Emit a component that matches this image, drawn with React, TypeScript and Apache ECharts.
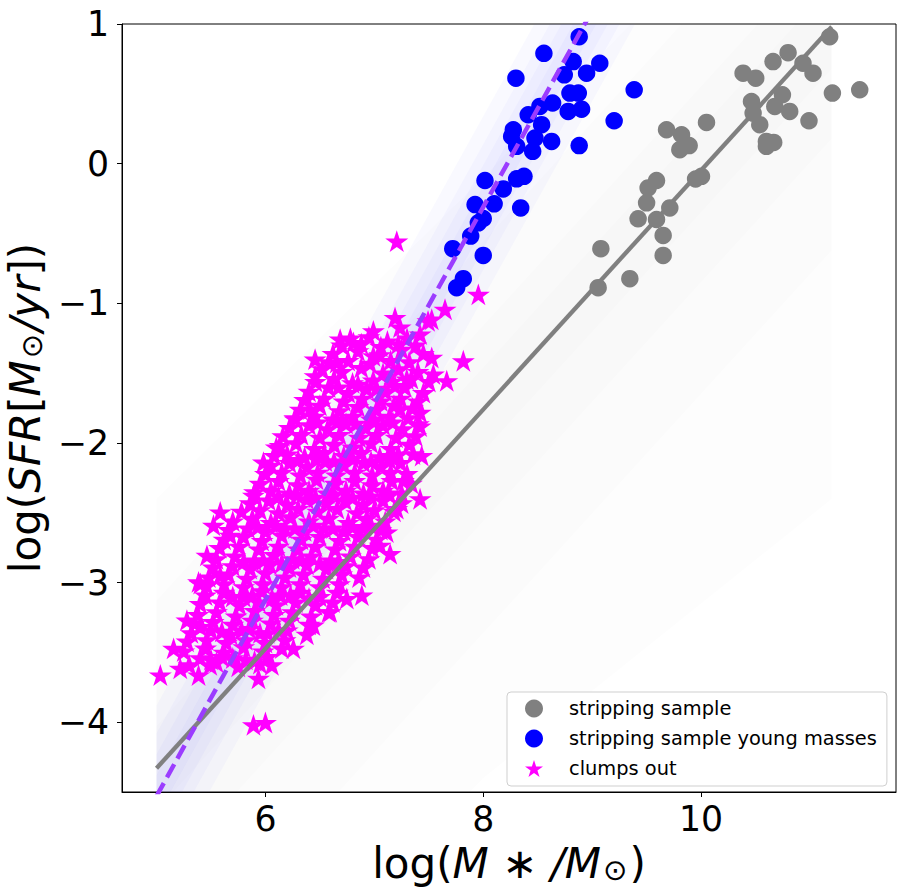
import React, { useEffect, useRef } from "react";
import * as echarts from "echarts";

// ---------------- data ----------------
const strippingSample: [number, number][] = [
  [11.181, 0.909], [10.799, 0.795], [10.661, 0.731], [10.936, 0.719], [10.386, 0.648],
  [10.502, 0.612], [11.028, 0.648], [11.206, 0.505], [11.457, 0.529], [10.747, 0.493],
  [10.463, 0.445], [10.677, 0.41], [10.814, 0.374], [10.478, 0.362], [10.991, 0.307],
  [10.539, 0.279], [10.6, 0.159], [10.667, 0.152], [10.6, 0.124], [10.05, 0.295],
  [9.683, 0.243], [9.821, 0.207], [9.891, 0.129], [9.805, 0.1], [10.004, -0.091],
  [9.95, -0.11], [9.591, -0.121], [9.514, -0.174], [9.5, -0.281], [9.713, -0.317],
  [9.422, -0.395], [9.591, -0.4], [9.652, -0.514], [9.08, -0.609], [9.652, -0.657],
  [9.346, -0.824], [9.055, -0.888],
];

const youngMasses: [number, number][] = [
  [8.881, 0.909], [8.557, 0.79], [8.3, 0.612], [8.826, 0.731], [9.07, 0.719],
  [8.949, 0.648], [8.744, 0.636], [9.386, 0.529], [8.796, 0.505], [8.873, 0.505],
  [8.637, 0.434], [8.52, 0.41], [8.413, 0.35], [8.78, 0.374], [8.903, 0.39],
  [9.202, 0.307], [8.536, 0.279], [8.276, 0.243], [8.261, 0.195], [8.475, 0.183],
  [8.307, 0.124], [8.628, 0.159], [8.454, 0.088], [8.881, 0.129], [8.016, -0.121],
  [8.374, -0.091], [8.307, -0.109], [8.184, -0.181], [7.925, -0.293], [8.1, -0.288],
  [8.344, -0.317], [8.0, -0.393], [7.955, -0.424], [7.885, -0.519], [7.72, -0.609],
  [8.0, -0.657], [7.817, -0.824], [7.756, -0.888],
];

const clumpsOuter: [number, number][] = [
  [7.955, -0.936], [7.649, -1.043], [7.206, -0.555], [7.19, -1.102], [7.493, -1.126],
  [6.991, -1.198], [6.686, -1.257], [6.808, -1.281], [7.236, -1.171], [7.42, -1.221],
  [7.527, -1.114], [6.456, -1.4], [6.655, -1.424], [6.456, -1.519], [7.817, -1.412],
  [7.527, -1.388], [7.665, -1.555], [7.542, -1.507], [6.991, -1.376], [7.298, -1.543],
  [6.41, -1.757], [6.273, -1.829], [7.42, -1.781], [7.404, -1.864], [7.236, -1.757],
  [6.135, -2.019], [5.982, -2.138], [7.358, -2.079], [7.435, -2.09], [7.145, -2.09],
  [7.42, -2.4], [7.206, -2.471], [7.267, -2.269], [5.89, -2.376], [5.585, -2.495],
  [5.523, -2.59], [5.677, -2.662], [7.114, -2.638], [7.145, -2.793], [7.053, -2.733],
  [5.463, -2.805], [5.386, -2.995], [5.585, -2.948], [6.885, -3.09], [6.747, -3.114],
  [6.594, -3.209], [5.279, -3.269], [5.402, -3.316], [5.157, -3.471], [5.218, -3.614],
  [5.035, -3.662], [5.386, -3.662], [5.493, -3.59], [5.936, -3.686], [6.059, -3.59],
  [6.257, -3.471], [6.44, -3.305], [5.89, -4.019], [6.0, -4.002], [5.402, -3.007],
];

const clumpsCore: [number, number][] = [
  [6.78, -1.25], [6.95, -1.24], [7.12, -1.27], [7.3, -1.25],
  [6.62, -1.36], [6.85, -1.34], [7.05, -1.37], [7.25, -1.33], [7.45, -1.36],
  [6.52, -1.47], [6.7, -1.49], [6.88, -1.46], [7.08, -1.5], [7.22, -1.47], [7.4, -1.49],
  [6.4, -1.63], [6.58, -1.6], [6.76, -1.64], [6.93, -1.61], [7.1, -1.63], [7.28, -1.6], [7.45, -1.64],
  [6.32, -1.76], [6.5, -1.73], [6.68, -1.77], [6.85, -1.74], [7.02, -1.76], [7.18, -1.73], [7.35, -1.75],
  [6.22, -1.89], [6.4, -1.87], [6.57, -1.9], [6.74, -1.86], [6.92, -1.89], [7.08, -1.87], [7.26, -1.9], [7.42, -1.88],
  [6.1, -2.03], [6.28, -2.0], [6.45, -2.04], [6.63, -2.01], [6.8, -2.03], [6.97, -2.0], [7.15, -2.04], [7.32, -2.01],
  [6.05, -2.16], [6.22, -2.14], [6.38, -2.17], [6.55, -2.13], [6.72, -2.16], [6.9, -2.14], [7.06, -2.17], [7.24, -2.14],
  [5.95, -2.29], [6.12, -2.27], [6.3, -2.3], [6.47, -2.26], [6.64, -2.29], [6.82, -2.27], [6.98, -2.3], [7.16, -2.27], [7.34, -2.29],
  [5.86, -2.43], [6.03, -2.41], [6.2, -2.44], [6.38, -2.4], [6.56, -2.43], [6.73, -2.41], [6.9, -2.44], [7.08, -2.41], [7.25, -2.43],
  [5.7, -2.56], [5.88, -2.54], [6.05, -2.57], [6.23, -2.53], [6.4, -2.56], [6.58, -2.54], [6.76, -2.57], [6.93, -2.54], [7.1, -2.56],
  [5.62, -2.69], [5.8, -2.67], [5.97, -2.7], [6.15, -2.66], [6.33, -2.69], [6.5, -2.67], [6.68, -2.7], [6.85, -2.67], [7.02, -2.69],
  [5.55, -2.83], [5.72, -2.81], [5.9, -2.84], [6.08, -2.8], [6.25, -2.83], [6.42, -2.81], [6.6, -2.84], [6.78, -2.81], [6.95, -2.83],
  [5.48, -2.96], [5.66, -2.94], [5.83, -2.97], [6.0, -2.93], [6.18, -2.96], [6.35, -2.94], [6.53, -2.97], [6.7, -2.94], [6.86, -2.96],
  [5.45, -3.09], [5.62, -3.07], [5.8, -3.1], [5.97, -3.06], [6.14, -3.09], [6.32, -3.07], [6.5, -3.1], [6.66, -3.07],
  [5.38, -3.23], [5.55, -3.21], [5.73, -3.24], [5.9, -3.2], [6.08, -3.23], [6.25, -3.21], [6.42, -3.24], [6.58, -3.21],
  [5.32, -3.36], [5.5, -3.34], [5.68, -3.37], [5.85, -3.33], [6.02, -3.36], [6.2, -3.34], [6.38, -3.37],
  [5.25, -3.49], [5.45, -3.47], [5.62, -3.5], [5.8, -3.46], [5.98, -3.49], [6.15, -3.47],
  [5.3, -3.59], [5.55, -3.57], [5.75, -3.6], [5.95, -3.58],
];

const clumpsInfill: [number, number][] = [
  [6.7, -1.3], [6.88, -1.29], [7.06, -1.31], [7.22, -1.29], [7.38, -1.3],
  [6.58, -1.42], [6.76, -1.41], [6.96, -1.43], [7.15, -1.41], [7.32, -1.42],
  [6.46, -1.56], [6.63, -1.54], [6.8, -1.57], [6.99, -1.55], [7.16, -1.56], [7.34, -1.54], [7.5, -1.56],
  [6.36, -1.69], [6.54, -1.68], [6.72, -1.7], [6.89, -1.68], [7.06, -1.7], [7.24, -1.68], [7.4, -1.7],
  [6.27, -1.82], [6.45, -1.81], [6.62, -1.83], [6.8, -1.81], [6.97, -1.83], [7.14, -1.81], [7.31, -1.82],
  [6.16, -1.95], [6.33, -1.94], [6.5, -1.96], [6.68, -1.94], [6.86, -1.96], [7.02, -1.94], [7.2, -1.96], [7.38, -1.95],
  [6.08, -2.09], [6.2, -2.08], [6.36, -2.1], [6.54, -2.07], [6.72, -2.09], [6.88, -2.07], [7.05, -2.1], [7.22, -2.08],
  [6.0, -2.22], [6.15, -2.21], [6.32, -2.23], [6.48, -2.21], [6.65, -2.23], [6.82, -2.21], [6.98, -2.23], [7.15, -2.21], [7.3, -2.22],
  [5.9, -2.35], [6.05, -2.34], [6.22, -2.36], [6.4, -2.34], [6.57, -2.36], [6.74, -2.34], [6.9, -2.36], [7.08, -2.34], [7.25, -2.36],
  [5.78, -2.49], [5.95, -2.48], [6.12, -2.5], [6.3, -2.47], [6.48, -2.49], [6.66, -2.47], [6.84, -2.5], [7.0, -2.48], [7.18, -2.49],
  [5.66, -2.62], [5.84, -2.61], [6.0, -2.63], [6.18, -2.61], [6.36, -2.63], [6.54, -2.61], [6.72, -2.63], [6.9, -2.61], [7.06, -2.62],
  [5.58, -2.75], [5.76, -2.74], [5.94, -2.76], [6.12, -2.74], [6.3, -2.76], [6.46, -2.74], [6.64, -2.76], [6.82, -2.74], [6.98, -2.75],
  [5.52, -2.89], [5.7, -2.88], [5.86, -2.9], [6.04, -2.87], [6.22, -2.89], [6.38, -2.87], [6.56, -2.9], [6.74, -2.88], [6.9, -2.89],
  [5.46, -3.02], [5.62, -3.01], [5.8, -3.03], [5.98, -3.01], [6.15, -3.03], [6.32, -3.01], [6.5, -3.03], [6.68, -3.01],
  [5.4, -3.15], [5.58, -3.14], [5.76, -3.16], [5.94, -3.14], [6.1, -3.16], [6.28, -3.14], [6.46, -3.16], [6.62, -3.14],
  [5.35, -3.29], [5.52, -3.28], [5.7, -3.3], [5.88, -3.27], [6.05, -3.29], [6.22, -3.27], [6.4, -3.3],
  [5.28, -3.42], [5.46, -3.41], [5.64, -3.43], [5.82, -3.41], [6.0, -3.43], [6.18, -3.41],
  [5.4, -3.54], [5.6, -3.53], [5.82, -3.55], [6.02, -3.53],
];

const clumpsDense: [number, number][] = [
  [6.67, -1.6], [6.85, -1.58], [7.02, -1.61], [7.19, -1.59],
  [6.48, -1.85], [6.66, -1.84], [6.83, -1.86], [7.0, -1.84], [7.17, -1.85],
  [6.3, -2.12], [6.46, -2.11], [6.63, -2.13], [6.8, -2.11], [6.97, -2.13], [7.14, -2.12],
  [6.12, -2.38], [6.29, -2.37], [6.46, -2.39], [6.63, -2.37], [6.8, -2.39], [6.97, -2.38], [7.14, -2.37],
  [5.93, -2.6], [6.1, -2.59], [6.27, -2.61], [6.44, -2.59], [6.62, -2.61], [6.8, -2.6], [6.97, -2.59],
  [5.8, -2.85], [5.98, -2.84], [6.15, -2.86], [6.32, -2.84], [6.5, -2.86], [6.67, -2.85],
  [5.7, -3.1], [5.88, -3.09], [6.06, -3.11], [6.23, -3.09], [6.4, -3.11],
  [5.6, -3.35], [5.78, -3.34], [5.95, -3.36], [6.12, -3.34],
  [5.5, -3.55], [5.7, -3.54], [5.9, -3.56],
];

// fitted relations (end points)
const greyFitX = [5.0, 11.2];
const greyFitY = [-4.33, 0.98];
const youngFitX = [5.0, 9.6];
const youngFitY = [-4.53, 1.94];

// uncertainty envelopes of the fits (nested layers, inner to outer)
const greyBandX = [5.0, 8.0, 11.2];
const greyBandLo = [
  [-4.63, -2.06, 0.68],
  [-5.13, -2.56, 0.18],
  [-5.93, -3.36, -0.62],
  [-6.8, -4.4, -2.4],
];
const greyBandHi = [
  [-4.03, -1.46, 1.28],
  [-3.73, -1.16, 1.58],
  [-3.13, -0.56, 2.18],
  [-2.4, -0.1, 2.5],
];
const youngBandX = [5.0, 9.6];
const youngBandLo = [
  [-4.68, 1.79],
  [-4.83, 1.64],
  [-4.98, 1.49],
  [-5.18, 1.29],
];
const youngBandHi = [
  [-4.38, 2.09],
  [-4.23, 2.24],
  [-4.08, 2.39],
  [-3.88, 2.59],
];

const xTicks = [6, 8, 10];
const yTicks = [-4, -3, -2, -1, 0, 1];

// ---------------- helpers ----------------
const FONT = "DejaVu Sans";

const starPath = (() => {
  const pts: string[] = [];
  for (let k = 0; k < 10; k++) {
    const r = k % 2 === 0 ? 1 : 0.381966;
    const a = Math.PI / 2 + (k * Math.PI) / 5;
    pts.push((r * Math.cos(a)).toFixed(4) + " " + (-r * Math.sin(a)).toFixed(4));
  }
  return "path://M" + pts.join(" L") + " Z";
})();

function band(xs: number[], lo: number[], hi: number[], color: string) {
  const data = xs.map((x, i) => [x, lo[i], hi[i]]);
  return {
    type: "custom",
    silent: true,
    clip: true,
    z: 1,
    data,
    encode: { x: 0, y: [1, 2] },
    renderItem: (params: any, api: any) => {
      if (params.dataIndex !== 0) return null;
      const pts: number[][] = [];
      for (let i = 0; i < data.length; i++) pts.push(api.coord([data[i][0], data[i][2]]));
      for (let i = data.length - 1; i >= 0; i--) pts.push(api.coord([data[i][0], data[i][1]]));
      return { type: "polygon", shape: { points: pts }, style: { fill: color } };
    },
  };
}

const fmt = (v: number) => (v < 0 ? "\u2212" + Math.abs(v) : String(v));

const nameRich = {
  n: { fontFamily: FONT, fontSize: 42, color: "#000" },
  i: { fontFamily: FONT, fontSize: 42, fontStyle: "italic", color: "#000" },
  s: { fontFamily: FONT, fontSize: 29, color: "#000", verticalAlign: "bottom", padding: [0, 2, 0, 2] },
};

export default function App() {
  const ref = useRef<HTMLDivElement>(null);
  useEffect(() => {
    document.body.style.margin = "0";
    if (!ref.current) return;
    const chart = echarts.init(ref.current, null, { renderer: "svg" });
    const clumps = clumpsCore.concat(clumpsInfill, clumpsDense, clumpsOuter);
    const bands: any[] = [];
    for (let k = greyBandLo.length - 1; k >= 0; k--)
      bands.push(band(greyBandX, greyBandLo[k], greyBandHi[k], "rgba(120,120,120,0.014)"));
    for (let k = youngBandLo.length - 1; k >= 0; k--)
      bands.push(band(youngBandX, youngBandLo[k], youngBandHi[k], "rgba(110,110,255,0.04)"));
    chart.setOption({
      animation: false,
      backgroundColor: "#fff",
      textStyle: { fontFamily: FONT },
      grid: {
        left: 122,
        top: 24,
        width: 774,
        height: 768,
        show: true,
        borderColor: "#000",
        borderWidth: 1,
        backgroundColor: "transparent",
        outerBoundsMode: "none",
      },
      legend: {
        left: 507,
        top: 692,
        orient: "vertical",
        padding: [7, 10, 8, 18],
        itemGap: 11,
        itemWidth: 18,
        itemHeight: 18,
        backgroundColor: "rgba(255,255,255,0.85)",
        borderColor: "#cfcfcf",
        borderWidth: 1,
        borderRadius: 4,
        selectedMode: false,
        textStyle: { fontFamily: FONT, fontSize: 19.4, color: "#000", padding: [0, 0, 0, 21] },
        data: [
          { name: "stripping sample", icon: "circle" },
          { name: "stripping sample young masses", icon: "circle" },
          { name: "clumps out", icon: starPath },
        ],
      },
      xAxis: {
        type: "value",
        min: 4.683,
        max: 11.79,
        splitLine: { show: false },
        axisLine: { show: true, onZero: false, lineStyle: { color: "#000", width: 1 } },
        axisTick: { show: true, length: 5, lineStyle: { color: "#000" }, customValues: xTicks },
        axisLabel: {
          customValues: xTicks,
          formatter: fmt,
          fontSize: 34.7,
          fontFamily: FONT,
          color: "#000",
          margin: 9,
        },
        name: "{n|log(}{i|M}{n| \u2217 }{i|/M}{s|\u2299}{n|)}",
        nameLocation: "middle",
        nameGap: 50,
        nameTextStyle: { rich: nameRich },
      },
      yAxis: {
        type: "value",
        min: -4.5,
        max: 1,
        splitLine: { show: false },
        axisLine: { show: true, onZero: false, lineStyle: { color: "#000", width: 1 } },
        axisTick: { show: true, length: 5, lineStyle: { color: "#000" }, customValues: yTicks },
        axisLabel: {
          customValues: yTicks,
          formatter: fmt,
          fontSize: 34.7,
          fontFamily: FONT,
          color: "#000",
          margin: 13,
        },
        name: "{n|log(}{i|SFR}{n|[}{i|M}{s|\u2299}{i|/yr}{n|])}",
        nameLocation: "middle",
        nameGap: 72,
        nameTextStyle: { rich: nameRich },
      },
      series: [
        ...bands,
        {
          name: "clumps out",
          type: "scatter",
          data: clumps,
          symbol: starPath,
          symbolKeepAspect: true,
          symbolSize: 23,
          itemStyle: { color: "#ff00ff", opacity: 1 },
          silent: true,
          z: 2,
        },
        {
          name: "stripping sample",
          type: "scatter",
          data: strippingSample,
          symbol: "circle",
          symbolSize: 17.5,
          itemStyle: { color: "#808080", opacity: 1 },
          silent: true,
          z: 2,
        },
        {
          name: "stripping sample young masses",
          type: "scatter",
          data: youngMasses,
          symbol: "circle",
          symbolSize: 17.5,
          itemStyle: { color: "#0000ff", opacity: 1 },
          silent: true,
          z: 2,
        },
        {
          name: "grey fit",
          type: "line",
          data: greyFitX.map((x, i) => [x, greyFitY[i]]),
          showSymbol: false,
          symbol: "none",
          clip: true,
          lineStyle: { color: "#808080", width: 4.3 },
          silent: true,
          z: 3,
        },
        {
          name: "young fit",
          type: "line",
          data: youngFitX.map((x, i) => [x, youngFitY[i]]),
          showSymbol: false,
          symbol: "none",
          clip: true,
          lineStyle: { color: "#9b3cff", width: 4.5, type: [15, 6.5] },
          silent: true,
          z: 3,
        },
      ],
    });
    return () => chart.dispose();
  }, []);
  return <div ref={ref} style={{ width: 905, height: 896 }} />;
}
